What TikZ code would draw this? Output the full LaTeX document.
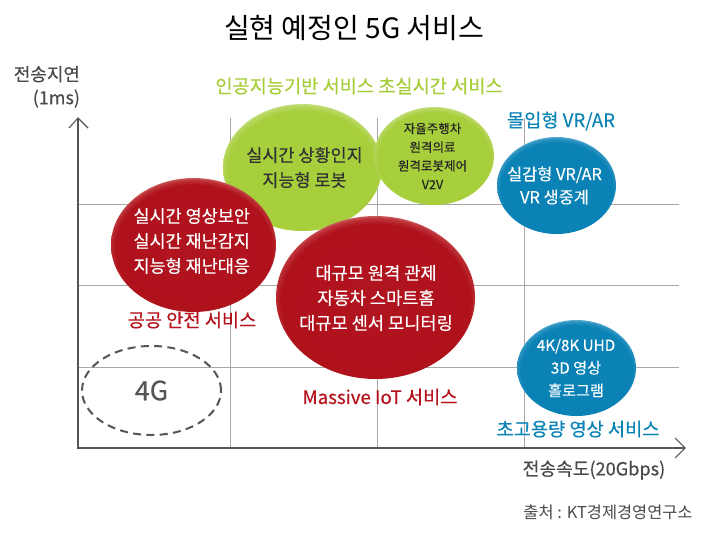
\documentclass[tikz,border=0pt]{standalone}
\usepackage{fontspec}
\setmainfont{Noto Sans CJK KR}
\newfontfamily\mf{Noto Sans CJK KR}[FakeBold=0.35]
\newfontfamily\lf{Noto Sans CJK KR}[FakeBold=0.2]
\usetikzlibrary{shapes.geometric,arrows.meta}
\pgfdeclareradialshading{greenball}{\pgfpoint{0bp}{-2.5bp}}{rgb(0bp)=(0.655,0.808,0.231);rgb(23.5bp)=(0.655,0.808,0.231);rgb(25.5bp)=(0.72,0.84,0.38);rgb(27.5bp)=(0.86,0.92,0.70);rgb(50bp)=(0.86,0.92,0.70)}
\pgfdeclareradialshading{redball}{\pgfpoint{0bp}{-2.5bp}}{rgb(0bp)=(0.69,0.08,0.12);rgb(23.8bp)=(0.69,0.07,0.11);rgb(25.5bp)=(0.74,0.20,0.22);rgb(27.5bp)=(0.88,0.62,0.60);rgb(50bp)=(0.88,0.62,0.60)}
\pgfdeclareradialshading{blueball}{\pgfpoint{0bp}{-2.5bp}}{rgb(0bp)=(0.04,0.51,0.71);rgb(23.5bp)=(0.04,0.51,0.71);rgb(25.5bp)=(0.18,0.58,0.76);rgb(27.5bp)=(0.62,0.82,0.90);rgb(50bp)=(0.62,0.82,0.90)}
\definecolor{axisgray}{HTML}{555555}
\definecolor{gridgray}{HTML}{A8A8A8}
\definecolor{labgreen}{HTML}{A6CE39}
\definecolor{labred}{HTML}{B5121B}
\definecolor{labblue}{HTML}{0A84B5}
\definecolor{txtgray}{HTML}{4A4A4A}
\newcommand{\fs}[2]{\fontsize{#1}{#2}\selectfont}
\tikzset{
  x=0.75pt,y=-0.75pt,
  ball/.style={ellipse,inner sep=0pt,outer sep=0pt},
  greenb/.style={ball,shade,shading=greenball},
  redb/.style={ball,shade,shading=redball},
  blueb/.style={ball,shade,shading=blueball},
  gridl/.style={draw=gridgray,line width=0.75pt},
  axisl/.style={draw=axisgray,line width=0.8pt},
  lab/.style={inner sep=0pt,outer sep=0pt,align=center},
  colored/.style={lab,font=\mf\fs{14}{17}},
}
\begin{document}
\begin{tikzpicture}
\useasboundingbox (0,0) rectangle (705,546);
\fill[white] (0,0) rectangle (705,546);
% grid
\draw[gridl] (78,204) -- (679,204);
\draw[gridl] (78,285) -- (679,285);
\draw[gridl] (78,367) -- (679,367);
\draw[gridl] (230,118) -- (230,448);
\draw[gridl] (377,118) -- (377,448);
\draw[gridl] (524,118) -- (524,448);
% axes
\coordinate (org) at (78,448);
\coordinate (ytip) at (78,118);
\coordinate (xtip) at (685,448);
\draw[axisl] (ytip) -- (org) -- (xtip);
\draw[axisl] (69,128) -- (ytip) -- (88,128);
\draw[axisl] (675,438) -- (xtip) -- (675,458);
% title
\node[lab,font=\fs{21}{25}] (title) at (354,28) {실현 예정인 5G 서비스};
\node[lab,text=txtgray,align=right,anchor=north east,font=\mf\fs{13.5}{17.5}] (ylab) at (80,66) {전송지연\\(1ms)};
\node[lab,text=txtgray,font=\mf\fs{13.6}{16}] (xlab) at (594,470) {전송속도(20Gbps)};
\node[lab,text=txtgray,font=\fs{12.3}{14}] (src) at (608,512) {출처 : KT경제경영연구소};
% ellipses
\node[greenb,minimum width=119.25pt,minimum height=95.25pt] (g1) at (302.5,167.5) {};
\node[greenb,minimum width=90pt,minimum height=73.5pt] (g2) at (434,156) {};
\node[redb,minimum width=123.75pt,minimum height=100.5pt] (r1) at (193.5,245) {};
\node[redb,minimum width=149.25pt,minimum height=122.25pt] (r2) at (375.5,297.5) {};
\node[blueb,minimum width=89.25pt,minimum height=72.75pt] (b1) at (556.5,185.5) {};
\node[blueb,minimum width=89.25pt,minimum height=72pt] (b2) at (576.5,368) {};
\node[ellipse,draw=axisgray,line width=1.5pt,dash pattern=on 6pt off 4pt,minimum width=104.25pt,minimum height=66.75pt,inner sep=0pt] (g4) at (151.5,390.5) {};
% ellipse texts
\node[lab,text=black!80,font=\mf\fs{13.1}{18.75}] (g1t) at (304.5,167.5) {실시간 상황인지\\지능형 로봇};
\node[lab,text=black!85,font=\lf\fs{9.4}{14}] (g2t) at (432.5,156) {자율주행차\\원격의료\\원격로봇제어\\V2V};
\node[lab,text=white,font=\mf\fs{13.1}{18.75}] (r1t) at (191.7,241) {실시간 영상보안\\실시간 재난감지\\지능형 재난대응};
\node[lab,text=white,font=\mf\fs{13.2}{18.75}] (r2t) at (376,298) {대규모 원격 관제\\자동차 스마트홈\\대규모 센서 모니터링};
\node[lab,text=white,font=\lf\fs{12.3}{17.3}] (b1t) at (554.5,185.5) {실감형 VR/AR\\VR 생중계};
\node[lab,text=white,font=\lf\fs{11.4}{17}] (b2t) at (576,368) {4K/8K UHD\\3D 영상\\홀로그램};
\node[lab,text=axisgray,font=\mf\fs{20}{22}] (g4t) at (151.5,390.5) {4G};
% labels
\node[colored,text=labgreen] (lgreen) at (359,86) {인공지능기반 서비스 초실시간 서비스};
\node[colored,text=labblue] (lblue1) at (561,121) {몰입형 VR/AR};
\node[colored,text=labred] (lred1) at (192,320) {공공 안전 서비스};
\node[colored,text=labred] (lred2) at (380,397) {Massive IoT 서비스};
\node[colored,text=labblue] (lblue2) at (578,429) {초고용량 영상 서비스};
\end{tikzpicture}
\end{document}
